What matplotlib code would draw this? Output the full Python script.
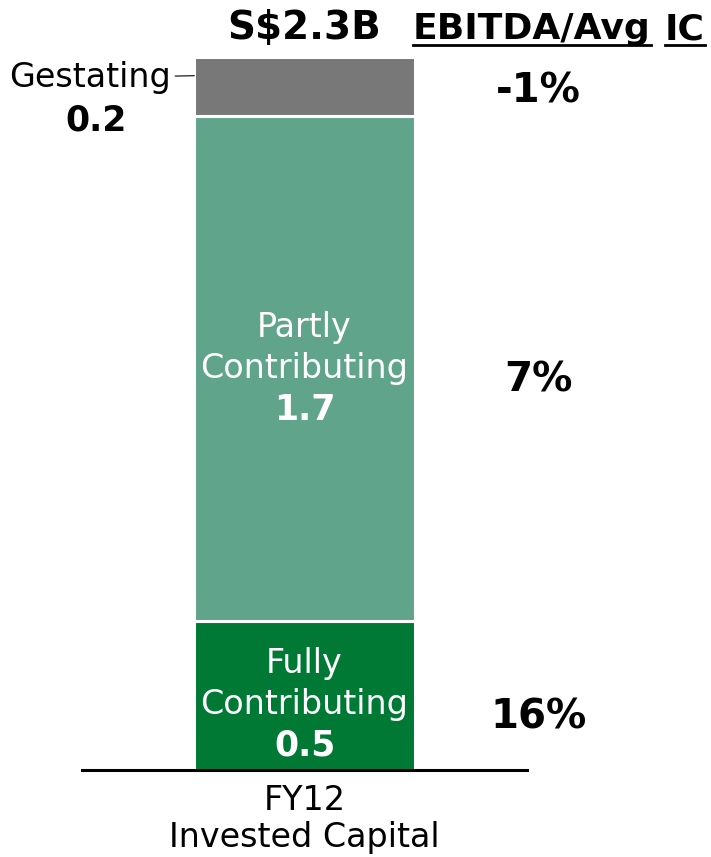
import matplotlib.pyplot as plt
from matplotlib.lines import Line2D

plt.rcParams['font.family'] = ['DejaVu Sans']

# FY12 invested capital, S$ billions, bottom to top
segments = ['Fully\nContributing', 'Partly\nContributing', 'Gestating']
values = [0.5, 1.7, 0.2]
ebitda_ratio = ['16%', '7%', '-1%']
total_label = 'S$2.3B'
category = 'FY12\nInvested Capital'

colors = ['#007934', '#60A48C', '#787878']

fig = plt.figure(figsize=(7.11, 8.57), dpi=100)
ax = fig.add_axes([0.1153, 0.1015, 0.626, 0.832])

bottom = 0
centers = []
for val, col in zip(values, colors):
    ax.bar(0, val, bottom=bottom, width=0.99, color=col,
           edgecolor='white', linewidth=2.2, zorder=2)
    centers.append(bottom + val / 2)
    bottom += val

ax.set_xlim(-1, 1)
ax.set_ylim(0, bottom)
ax.axhline(0, color='black', linewidth=2.2, zorder=3, clip_on=False)
ax.axis('off')

# labels inside the two larger segments
shift = [-6.5, 0]
for i in (0, 1):
    name = segments[i].split('\n')
    y = centers[i]
    s = shift[i]
    ax.annotate(name[0], (0, y), xytext=(0, 29.5 + s), textcoords='offset points',
                ha='center', va='center', color='white', fontsize=24)
    ax.annotate(name[1], (0, y), xytext=(0, s), textcoords='offset points',
                ha='center', va='center', color='white', fontsize=24)
    ax.annotate(f'{values[i]:.1f}', (0, y), xytext=(0, -29.5 + s), textcoords='offset points',
                ha='center', va='center', color='white', fontsize=25, weight='bold')

# gestating is labelled outside with a leader line
ax.annotate(segments[2], xy=(-0.495, centers[2] + 0.037), xytext=(-0.6, centers[2] + 0.03),
            ha='right', va='center', fontsize=24, annotation_clip=False,
            arrowprops=dict(arrowstyle='-', color='black', linewidth=0.8,
                            shrinkA=1, shrinkB=0))
ax.annotate(f'{values[2]:.1f}', (-0.495, centers[2]), xytext=(-71, -24),
            textcoords='offset points', ha='center', va='center',
            fontsize=25, weight='bold', annotation_clip=False)

# EBITDA / avg IC ratios on the right
offsets = [-16, -8, -3.6]
for y, txt, off in zip(centers, ebitda_ratio, offsets):
    ax.annotate(txt, (1.05, y), xytext=(0, off), textcoords='offset points',
                ha='center', va='center', fontsize=29, weight='bold',
                annotation_clip=False)

ax.annotate(category, (0, 0), xytext=(0, -35), textcoords='offset points',
            ha='center', va='center', fontsize=24, linespacing=1.15,
            annotation_clip=False)

fig.text(304 / 711, 1 - 28 / 857, total_label, ha='center', va='center',
         fontsize=28, weight='bold')
hdr1 = fig.text(413 / 711, 1 - 29 / 857, 'EBITDA/Avg', ha='left', va='center',
                fontsize=26, weight='bold')
hdr2 = fig.text(705 / 711, 1 - 29 / 857, 'IC', ha='right', va='center',
                fontsize=26, weight='bold')

# underline the column header
fig.canvas.draw()
r = fig.canvas.get_renderer()
for t in (hdr1, hdr2):
    bb = t.get_window_extent(r)
    y = (857 - 45) / 857
    fig.add_artist(Line2D([bb.x0 / 711, bb.x1 / 711], [y, y],
                          transform=fig.transFigure, color='black', linewidth=2))

fig.savefig('out.png', dpi=100)
